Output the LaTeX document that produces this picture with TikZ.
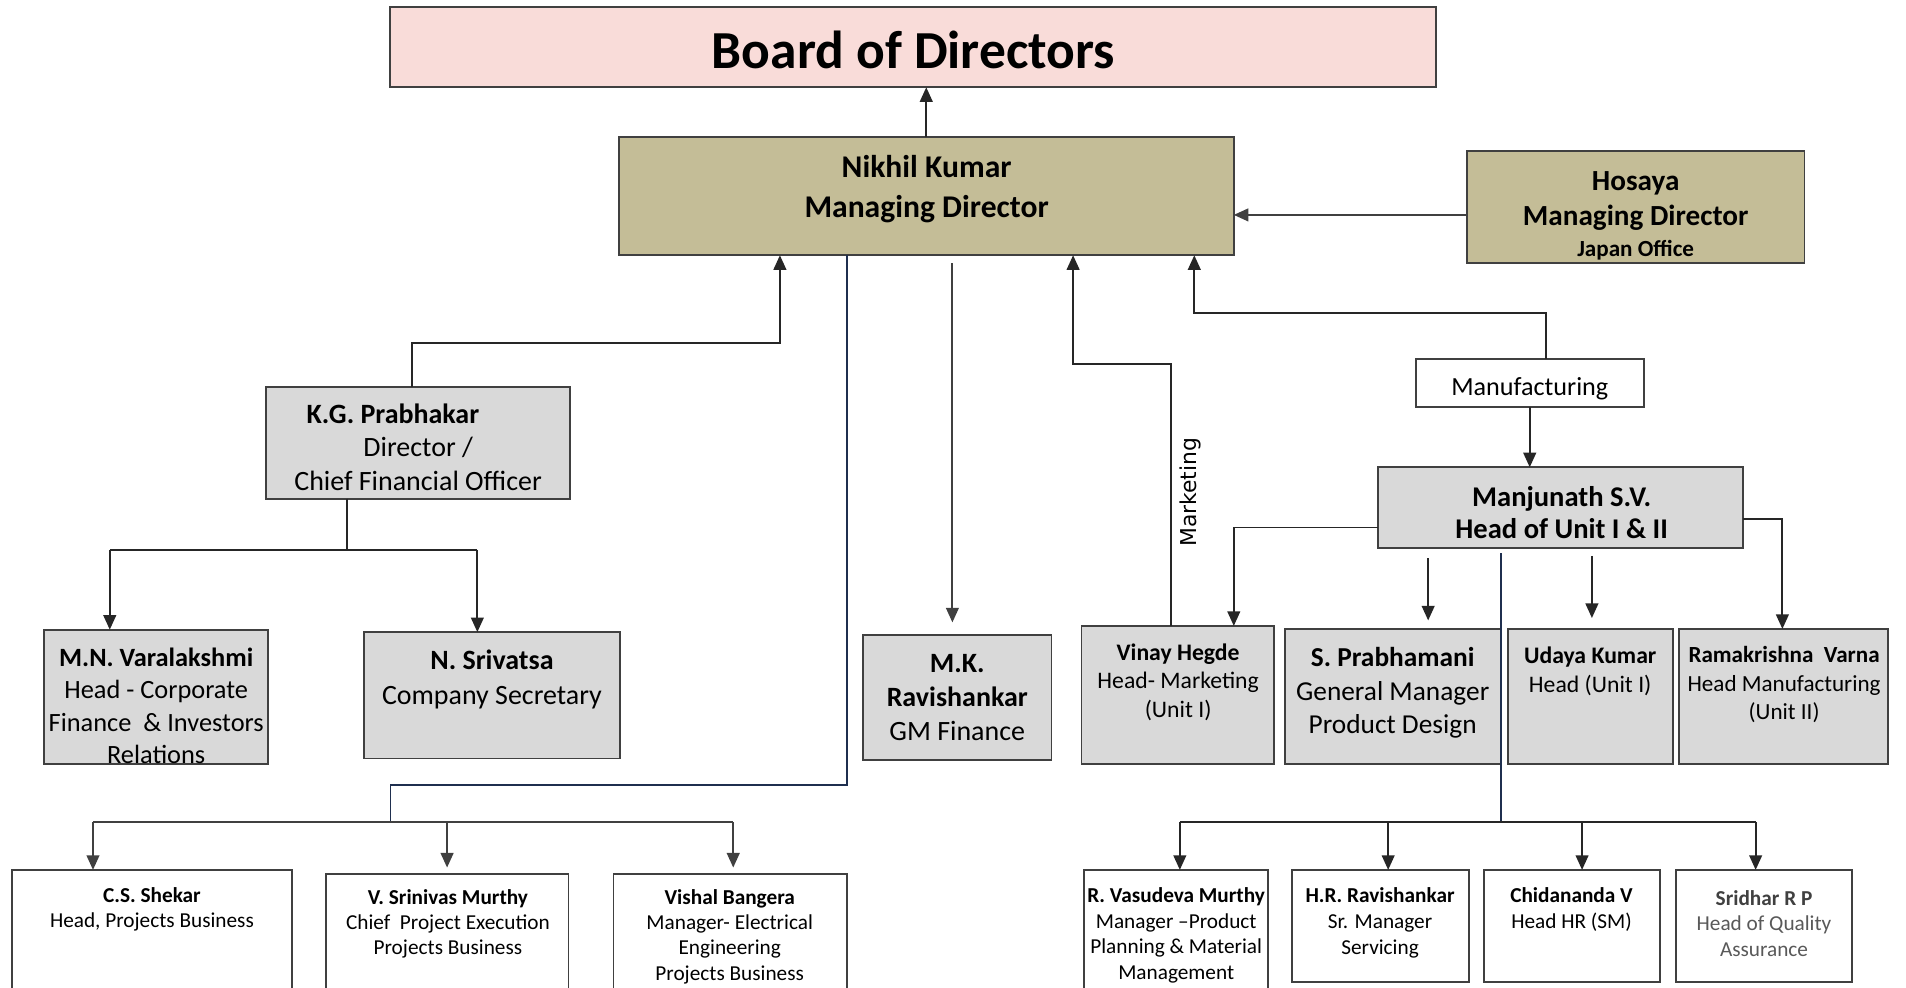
\documentclass[tikz,border=0pt]{standalone}
\usepackage{fontspec}
\setmainfont{Carlito}
\newfontfamily\mkfont{DejaVu Sans}
\usetikzlibrary{arrows.meta}
\definecolor{bodpink}{HTML}{F9DCD9}
\definecolor{olive}{HTML}{C4BD97}
\definecolor{boxgray}{HTML}{D9D9D9}
\definecolor{edge}{HTML}{404040}
\definecolor{navy}{HTML}{1F2F4F}
\definecolor{linecol}{HTML}{262626}
\definecolor{qagray}{HTML}{595959}
\newcommand{\tl}[3]{\fontsize{#1}{#2}\selectfont\begin{tabular}[t]{@{}c@{}}#3\end{tabular}}
\begin{document}
\begin{tikzpicture}[x=1pt,y=-1pt,
  box/.style={draw=edge, line width=1.6pt, inner sep=0pt, outer sep=0pt, anchor=center},
  pinkbox/.style={box, fill=bodpink},
  olivebox/.style={box, fill=olive},
  graybox/.style={box, fill=boxgray},
  whitebox/.style={box, fill=white},
  txt/.style={inner sep=0pt, outer sep=0pt, anchor=base},
  conn/.style={draw=linecol, line width=1.5pt},
  arr/.style={conn, -{Triangle[length=12pt,width=10.5pt]}},
  garr/.style={arr, draw=edge},
  navyline/.style={draw=navy, line width=1.5pt}
]
\useasboundingbox (0,0) rectangle (1568,812);
\fill[white] (0,0) rectangle (1568,812);
\clip (0,0) rectangle (1568,812);

% ---------- boxes ----------
\node[pinkbox, minimum width=860pt, minimum height=66.3pt] (bod) at (751,38.65) {};
\node[olivebox, minimum width=506pt, minimum height=97pt] (nik) at (762,161.5) {};
\node[olivebox, minimum width=277.5pt, minimum height=92.4pt] (hos) at (1345.75,170.4) {};
\node[graybox, minimum width=250pt, minimum height=92.2pt] (kg) at (344.15,364.1) {};
\node[graybox, minimum width=184.1pt, minimum height=110.4pt] (mn) at (128.55,573.2) {};
\node[graybox, minimum width=210.6pt, minimum height=104pt] (ns) at (404.7,572) {};
\node[graybox, minimum width=155pt, minimum height=103pt] (mk) at (787.5,573.5) {};
\node[graybox, minimum width=158.5pt, minimum height=113.5pt] (vh) at (968.95,571.65) {};
\node[graybox, minimum width=177.8pt, minimum height=111pt] (sp) at (1145.7,572.9) {};
\node[graybox, minimum width=135.7pt, minimum height=111pt] (uk) at (1308.65,572.9) {};
\node[graybox, minimum width=171.6pt, minimum height=111pt] (rv) at (1467.2,572.9) {};
\node[whitebox, minimum width=187.5pt, minimum height=39.7pt] (mfg) at (1258.45,315.15) {};
\node[graybox, minimum width=300.4pt, minimum height=66.6pt] (man) at (1283.7,417.7) {};
\node[whitebox, minimum width=230pt, minimum height=134.4pt] (cs) at (125,782.8) {};
\node[whitebox, minimum width=199.4pt, minimum height=130.8pt] (vs) at (368,784.6) {};
\node[whitebox, minimum width=191.7pt, minimum height=130.8pt] (vb) at (600.55,784.6) {};
\node[whitebox, minimum width=151.8pt, minimum height=134.4pt] (rvm) at (967.4,782.8) {};
\node[whitebox, minimum width=145.5pt, minimum height=92.4pt] (hr) at (1135.35,761.8) {};
\node[whitebox, minimum width=144.7pt, minimum height=92.4pt] (cv) at (1292.95,761.8) {};
\node[whitebox, minimum width=145pt, minimum height=92.4pt] (srp) at (1451.3,761.8) {};

% ---------- texts ----------
\node[txt] (bodt) at (751.5,56) {\fontsize{44}{52}\selectfont\bfseries Board of Directors};
\node[txt] (nikt) at (762.3,146.3) {\tl{26}{32.4}{\bfseries Nikhil Kumar\\\bfseries Managing Director}};
\node[txt] (host) at (1345.6,156.9) {\tl{24}{28.6}{\bfseries Hosaya\\\bfseries Managing Director\\[-3.5pt]\fontsize{19}{23}\selectfont\bfseries Japan Office}};
\node[txt, anchor=base west] (kgt1) at (252.3,348.6) {\fontsize{23}{28}\selectfont\bfseries K.G. Prabhakar};
\node[txt] (kgt2) at (344,375.8) {\tl{23}{27.4}{Director /\\Chief Financial Officer}};
\node[txt] (mnt) at (128.5,548) {\tl{21.7}{26.8}{\bfseries M.N. Varalakshmi\\Head - Corporate\\Finance~~\& Investors\\Relations}};
\node[txt] (nst) at (404.7,551) {\tl{23}{28.6}{\bfseries N. Srivatsa\\Company Secretary}};
\node[txt] (mkt) at (787.5,553.5) {\tl{23}{27.8}{\bfseries M.K.\\\bfseries Ravishankar\\GM Finance}};
\node[txt] (vht) at (969.2,543) {\tl{19.5}{23.8}{\bfseries Vinay Hegde\\Head- Marketing\\(Unit I)}};
\node[txt] (spt) at (1145.7,548.5) {\tl{22.5}{27.5}{\bfseries S. Prabhamani\\General Manager\\Product Design}};
\node[txt] (ukt) at (1308.2,545.7) {\tl{19.5}{23.6}{\bfseries Udaya Kumar\\Head (Unit I)}};
\node[txt] (rvt) at (1467.7,545) {\tl{19}{23.5}{\bfseries Ramakrishna~~Varna\\Head Manufacturing\\(Unit II)}};
\node[txt] (mfgt) at (1258.5,325) {\fontsize{21.5}{26}\selectfont Manufacturing};
\node[txt] (mant) at (1284.7,416.5) {\tl{23.5}{26.5}{\bfseries Manjunath S.V.\\\bfseries Head of Unit I \& II}};
\node[txt] (cst) at (125,742.3) {\tl{17.5}{20.8}{\bfseries C.S. Shekar\\Head, Projects Business}};
\node[txt] (vst) at (368.5,744) {\tl{17.5}{20.8}{\bfseries V. Srinivas Murthy\\Chief~~Project Execution\\Projects Business}};
\node[txt] (vbt) at (600.3,744) {\tl{17.5}{20.8}{\bfseries Vishal Bangera\\Manager- Electrical\\Engineering\\Projects Business}};
\node[txt] (rvmt) at (967.6,742.5) {\tl{17.5}{21}{\bfseries R. Vasudeva Murthy\\Manager –Product\\Planning \& Material\\Management}};
\node[txt] (hrt) at (1135.3,742.5) {\tl{17.5}{21.2}{\bfseries H.R. Ravishankar\\Sr. Manager\\Servicing}};
\node[txt] (cvt) at (1292.8,742.5) {\tl{17.5}{21.5}{\bfseries Chidananda V\\Head HR (SM)}};
\node[txt] (srpt) at (1451.2,745) {\tl{17.5}{20.8}{\color{edge}\bfseries Sridhar R P\\\color{qagray}Head of Quality\\\color{qagray}Assurance}};
\node[inner sep=0pt, rotate=90] (mktg) at (979.5,405) {\mkfont\fontsize{18}{21}\selectfont Marketing};

% ---------- connectors ----------
% MD to Board
\draw[arr] (nik.north) -- (nik.north |- bod.south);
% Hosaya to MD
\coordinate (hy) at (1100,176.8);
\draw[garr] (hos.west |- hy) -- (nik.east |- hy);
% CFO to MD
\coordinate (c1) at (339,282);
\coordinate (c2) at (641.6,282);
\draw[arr] (kg.north -| c1) -- (c1) -- (c2) -- (nik.south -| c2);
% CFO to reports
\coordinate (c3) at (285.6,452.4);
\coordinate (c4) at (90.3,452.4);
\coordinate (c5) at (392.7,452.4);
\draw[conn] (kg.south -| c3) -- (c3);
\draw[conn] (c4) -- (c5);
\draw[arr] (c4) -- (mn.north -| c4);
\draw[arr] (c5) -- (ns.north -| c5);
% MD to projects business
\coordinate (n1) at (696.6,645.7);
\coordinate (n2) at (321.3,645.7);
\coordinate (n3) at (321.3,676.4);
\draw[navyline] (nik.south -| n1) -- (n1) -- (n2) -- (n3);
\coordinate (h1) at (76.5,676.4);
\coordinate (h2) at (603.2,676.4);
\coordinate (h3) at (367.8,676.4);
\draw[conn, draw=edge] (h1) -- (h2);
\draw[garr] (h1) -- (cs.north -| h1);
\draw[garr, shorten >=5.5pt] (h3) -- (vs.north -| h3);
\draw[garr, shorten >=5.5pt] (h2) -- (vb.north -| h2);
% GM Finance
\coordinate (mk0) at (783.5,216.6);
\draw[garr, shorten >=10pt] (mk0) -- (mk.north -| mk0);
% Marketing
\coordinate (m1) at (963,299.7);
\coordinate (m2) at (882.8,299.7);
\draw[arr] (vh.north -| m1) -- (m1) -- (m2) -- (nik.south -| m2);
% Manufacturing
\coordinate (f1) at (1272,257.5);
\coordinate (f2) at (982.5,257.5);
\draw[arr] (mfg.north -| f1) -- (f1) -- (f2) -- (nik.south -| f2);
\draw[arr] (mfg.south) -- (mfg.south |- man.north);
% Head of units
\coordinate (l1) at (1015,434);
\draw[arr] (man.west |- l1) -- (l1) -- (vh.north -| l1);
\coordinate (r1) at (1466.3,427.2);
\draw[arr] (man.east |- r1) -- (r1) -- (rv.north -| r1);
\coordinate (p0) at (1174.9,459.2);
\draw[arr, shorten >=7pt] (p0) -- (sp.north -| p0);
\coordinate (u0) at (1309.6,457.3);
\draw[arr, shorten >=9pt] (u0) -- (uk.north -| u0);
% lower right group
\coordinate (v0) at (1234.6,455.1);
\coordinate (v1) at (1234.6,676.4);
\draw[navyline] (v0) -- (v1);
\coordinate (b1) at (970.6,676.4);
\coordinate (b2) at (1444.3,676.4);
\coordinate (b3) at (1142,676.4);
\coordinate (b4) at (1301.5,676.4);
\draw[conn] (b1) -- (b2);
\draw[arr] (b1) -- (rvm.north -| b1);
\draw[arr] (b3) -- (hr.north -| b3);
\draw[arr] (b4) -- (cv.north -| b4);
\draw[arr] (b2) -- (srp.north -| b2);
\end{tikzpicture}
\end{document}
